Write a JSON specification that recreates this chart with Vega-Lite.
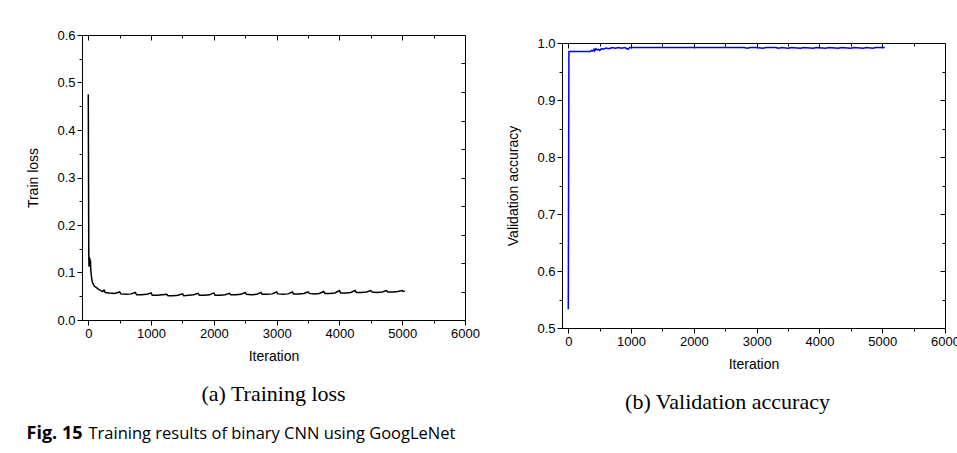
{
  "$schema": "https://vega.github.io/schema/vega-lite/v6.json",
  "padding": {"left": 26, "top": 28, "right": 0, "bottom": 0},
  "background": "white",
  "config": {
    "view": {"stroke": "#000", "strokeWidth": 1},
    "axis": {"grid": false, "domain": false, "labelFlush": false, "labelFont": "Liberation Sans", "labelFontSize": 13, "labelColor": "#000", "titleFont": "Liberation Sans", "titleFontSize": 14, "titleFontWeight": "normal", "titleColor": "#000", "tickColor": "#000", "tickSize": 5, "labelPadding": 2},
    "title": {"font": "Liberation Serif", "fontSize": 22, "fontWeight": "normal", "color": "#000"}
  },
  "datasets": {
    "loss": [
      {"iteration": 0, "loss": 0.475}, {"iteration": 8, "loss": 0.135}, {"iteration": 12, "loss": 0.112}, {"iteration": 16, "loss": 0.133}, {"iteration": 20, "loss": 0.113}, {"iteration": 25, "loss": 0.13}, {"iteration": 30, "loss": 0.115}, {"iteration": 35, "loss": 0.125}, {"iteration": 40, "loss": 0.105}, {"iteration": 50, "loss": 0.092}, {"iteration": 60, "loss": 0.083}, {"iteration": 70, "loss": 0.078}, {"iteration": 85, "loss": 0.074}, {"iteration": 100, "loss": 0.071}, {"iteration": 130, "loss": 0.068}, {"iteration": 160, "loss": 0.065}, {"iteration": 200, "loss": 0.062}, {"iteration": 230, "loss": 0.06},
      {"iteration": 250, "loss": 0.063}, {"iteration": 270, "loss": 0.058}, {"iteration": 330, "loss": 0.057}, {"iteration": 420, "loss": 0.056},
      {"iteration": 500, "loss": 0.059}, {"iteration": 520, "loss": 0.055}, {"iteration": 600, "loss": 0.054}, {"iteration": 680, "loss": 0.055},
      {"iteration": 750, "loss": 0.058}, {"iteration": 770, "loss": 0.053}, {"iteration": 850, "loss": 0.053}, {"iteration": 930, "loss": 0.054},
      {"iteration": 1000, "loss": 0.057}, {"iteration": 1020, "loss": 0.052}, {"iteration": 1100, "loss": 0.052}, {"iteration": 1180, "loss": 0.053},
      {"iteration": 1250, "loss": 0.054}, {"iteration": 1270, "loss": 0.051}, {"iteration": 1350, "loss": 0.051}, {"iteration": 1430, "loss": 0.052},
      {"iteration": 1500, "loss": 0.055}, {"iteration": 1520, "loss": 0.051}, {"iteration": 1600, "loss": 0.052}, {"iteration": 1680, "loss": 0.053},
      {"iteration": 1750, "loss": 0.056}, {"iteration": 1770, "loss": 0.052}, {"iteration": 1850, "loss": 0.052}, {"iteration": 1930, "loss": 0.053},
      {"iteration": 2000, "loss": 0.057}, {"iteration": 2020, "loss": 0.052}, {"iteration": 2100, "loss": 0.052}, {"iteration": 2180, "loss": 0.053},
      {"iteration": 2250, "loss": 0.056}, {"iteration": 2270, "loss": 0.053}, {"iteration": 2350, "loss": 0.053}, {"iteration": 2430, "loss": 0.054},
      {"iteration": 2500, "loss": 0.058}, {"iteration": 2520, "loss": 0.054}, {"iteration": 2600, "loss": 0.053}, {"iteration": 2680, "loss": 0.054},
      {"iteration": 2750, "loss": 0.058}, {"iteration": 2770, "loss": 0.054}, {"iteration": 2850, "loss": 0.054}, {"iteration": 2930, "loss": 0.055},
      {"iteration": 3000, "loss": 0.059}, {"iteration": 3020, "loss": 0.055}, {"iteration": 3100, "loss": 0.054}, {"iteration": 3180, "loss": 0.055},
      {"iteration": 3250, "loss": 0.059}, {"iteration": 3270, "loss": 0.055}, {"iteration": 3350, "loss": 0.055}, {"iteration": 3430, "loss": 0.056},
      {"iteration": 3500, "loss": 0.059}, {"iteration": 3520, "loss": 0.056}, {"iteration": 3600, "loss": 0.055}, {"iteration": 3680, "loss": 0.056},
      {"iteration": 3750, "loss": 0.06}, {"iteration": 3770, "loss": 0.056}, {"iteration": 3850, "loss": 0.056}, {"iteration": 3930, "loss": 0.057},
      {"iteration": 4000, "loss": 0.062}, {"iteration": 4020, "loss": 0.057}, {"iteration": 4100, "loss": 0.057}, {"iteration": 4180, "loss": 0.058},
      {"iteration": 4250, "loss": 0.062}, {"iteration": 4270, "loss": 0.058}, {"iteration": 4350, "loss": 0.058}, {"iteration": 4430, "loss": 0.059},
      {"iteration": 4500, "loss": 0.062}, {"iteration": 4520, "loss": 0.059}, {"iteration": 4600, "loss": 0.058}, {"iteration": 4680, "loss": 0.059},
      {"iteration": 4750, "loss": 0.062}, {"iteration": 4770, "loss": 0.059}, {"iteration": 4850, "loss": 0.059}, {"iteration": 4930, "loss": 0.06},
      {"iteration": 5000, "loss": 0.062}, {"iteration": 5020, "loss": 0.06}, {"iteration": 5040, "loss": 0.061}
    ],
    "acc": [
      {"iteration": 0, "accuracy": 0.533}, {"iteration": 10, "accuracy": 0.985}, {"iteration": 300, "accuracy": 0.985}, {"iteration": 350, "accuracy": 0.985}, {"iteration": 370, "accuracy": 0.987}, {"iteration": 390, "accuracy": 0.986}, {"iteration": 410, "accuracy": 0.989}, {"iteration": 420, "accuracy": 0.986}, {"iteration": 440, "accuracy": 0.99}, {"iteration": 460, "accuracy": 0.988}, {"iteration": 480, "accuracy": 0.989}, {"iteration": 500, "accuracy": 0.987}, {"iteration": 530, "accuracy": 0.99}, {"iteration": 560, "accuracy": 0.989}, {"iteration": 600, "accuracy": 0.991}, {"iteration": 650, "accuracy": 0.99}, {"iteration": 700, "accuracy": 0.992}, {"iteration": 750, "accuracy": 0.991}, {"iteration": 800, "accuracy": 0.992}, {"iteration": 850, "accuracy": 0.991}, {"iteration": 900, "accuracy": 0.992}, {"iteration": 950, "accuracy": 0.989}, {"iteration": 980, "accuracy": 0.992}, {"iteration": 1000, "accuracy": 0.992}, {"iteration": 2000, "accuracy": 0.992}, {"iteration": 2800, "accuracy": 0.992}, {"iteration": 2850, "accuracy": 0.991}, {"iteration": 2900, "accuracy": 0.992}, {"iteration": 3000, "accuracy": 0.992}, {"iteration": 3100, "accuracy": 0.991}, {"iteration": 3150, "accuracy": 0.992}, {"iteration": 3300, "accuracy": 0.992}, {"iteration": 3350, "accuracy": 0.991}, {"iteration": 3400, "accuracy": 0.992}, {"iteration": 3500, "accuracy": 0.991}, {"iteration": 3550, "accuracy": 0.992}, {"iteration": 3700, "accuracy": 0.991}, {"iteration": 3750, "accuracy": 0.992}, {"iteration": 3900, "accuracy": 0.991}, {"iteration": 3950, "accuracy": 0.992}, {"iteration": 4100, "accuracy": 0.991}, {"iteration": 4150, "accuracy": 0.992}, {"iteration": 4300, "accuracy": 0.991}, {"iteration": 4350, "accuracy": 0.992}, {"iteration": 4500, "accuracy": 0.991}, {"iteration": 4550, "accuracy": 0.992}, {"iteration": 4700, "accuracy": 0.991}, {"iteration": 4750, "accuracy": 0.992}, {"iteration": 4850, "accuracy": 0.991}, {"iteration": 4900, "accuracy": 0.992}, {"iteration": 5040, "accuracy": 0.992}
    ],
    "empty": [],
    "cap1": [{"t": "Fig. 15"}],
    "cap2": [{"t": "Training results of binary CNN using GoogLeNet"}]
  },
  "spacing": 10,
  "vconcat": [
    {
      "hconcat": [
        {
          "width": 383, "height": 285,
          "data": {"name": "loss"},
          "title": {"text": "(a) Training loss", "orient": "bottom", "offset": 21},
          "resolve": {"axis": {"x": "independent", "y": "independent"}},
          "layer": [
            {
              "mark": {"type": "line", "color": "#000", "strokeWidth": 1.5},
              "encoding": {
                "x": {"field": "iteration", "type": "quantitative", "scale": {"domain": [-100, 6000], "nice": false, "zero": false}, "axis": {"orient": "bottom", "values": [0, 1000, 2000, 3000, 4000, 5000, 6000], "format": "d", "title": "Iteration", "titlePadding": 9}},
                "y": {"field": "loss", "type": "quantitative", "scale": {"domain": [0, 0.6], "nice": false}, "axis": {"orient": "left", "values": [0, 0.1, 0.2, 0.3, 0.4, 0.5, 0.6], "format": ".1f", "title": "Train loss", "titlePadding": 16}}
              }
            },
            {
              "mark": {"type": "line", "strokeOpacity": 0},
              "encoding": {
                "x": {"field": "iteration", "type": "quantitative", "scale": {"domain": [-100, 6000], "nice": false, "zero": false}, "axis": {"orient": "bottom", "values": [500, 1500, 2500, 3500, 4500, 5500], "labels": false, "tickSize": 3, "title": null}},
                "y": {"field": "loss", "type": "quantitative", "scale": {"domain": [0, 0.6], "nice": false}, "axis": {"orient": "left", "values": [0.05, 0.15, 0.25, 0.35, 0.45, 0.55], "labels": false, "tickSize": 3, "title": null}}
              }
            },
            {
              "mark": {"type": "line", "strokeOpacity": 0},
              "encoding": {
                "x": {"field": "iteration", "type": "quantitative", "scale": {"domain": [-100, 6000], "nice": false, "zero": false}, "axis": {"orient": "top", "values": [0, 1000, 2000, 3000, 4000, 5000, 6000], "labels": false, "tickSize": -5, "title": null}},
                "y": {"field": "loss", "type": "quantitative", "scale": {"domain": [0, 0.6], "nice": false}, "axis": {"orient": "right", "values": [0.06, 0.12, 0.18, 0.24, 0.3, 0.36, 0.42, 0.48, 0.54], "labels": false, "tickSize": -4, "title": null}}
              }
            },
            {
              "mark": {"type": "line", "strokeOpacity": 0},
              "encoding": {
                "x": {"field": "iteration", "type": "quantitative", "scale": {"domain": [-100, 6000], "nice": false, "zero": false}, "axis": {"orient": "top", "values": [500, 1500, 2500, 3500, 4500, 5500], "labels": false, "tickSize": -3, "title": null}},
                "y": {"field": "loss", "type": "quantitative", "scale": {"domain": [0, 0.6], "nice": false}, "axis": null}
              }
            }
          ]
        },
        {
          "spacing": 0,
          "vconcat": [
            {
              "width": 383, "height": 1,
              "data": {"name": "empty"},
              "view": {"stroke": null},
              "mark": "text",
              "encoding": {}
            },
            {
              "width": 383, "height": 285,
              "data": {"name": "acc"},
              "title": {"text": "(b) Validation accuracy", "orient": "bottom", "offset": 21, "dx": -26},
              "resolve": {"axis": {"x": "independent", "y": "independent"}},
              "layer": [
                {
                  "mark": {"type": "line", "color": "#0000ff", "strokeWidth": 1.5},
                  "encoding": {
                    "x": {"field": "iteration", "type": "quantitative", "scale": {"domain": [-100, 6000], "nice": false, "zero": false}, "axis": {"orient": "bottom", "values": [0, 1000, 2000, 3000, 4000, 5000, 6000], "format": "d", "title": "Iteration", "titlePadding": 9}},
                    "y": {"field": "accuracy", "type": "quantitative", "scale": {"domain": [0.5, 1.0], "nice": false, "zero": false}, "axis": {"orient": "left", "values": [0.5, 0.6, 0.7, 0.8, 0.9, 1.0], "format": ".1f", "title": "Validation accuracy", "titlePadding": 16}}
                  }
                },
                {
                  "mark": {"type": "line", "strokeOpacity": 0},
                  "encoding": {
                    "x": {"field": "iteration", "type": "quantitative", "scale": {"domain": [-100, 6000], "nice": false, "zero": false}, "axis": {"orient": "bottom", "values": [500, 1500, 2500, 3500, 4500, 5500], "labels": false, "tickSize": 3, "title": null}},
                    "y": {"field": "accuracy", "type": "quantitative", "scale": {"domain": [0.5, 1.0], "nice": false, "zero": false}, "axis": {"orient": "left", "values": [0.55, 0.65, 0.75, 0.85, 0.95], "labels": false, "tickSize": 3, "title": null}}
                  }
                },
                {
                  "mark": {"type": "line", "strokeOpacity": 0},
                  "encoding": {
                    "x": {"field": "iteration", "type": "quantitative", "scale": {"domain": [-100, 6000], "nice": false, "zero": false}, "axis": {"orient": "top", "values": [0, 1000, 2000, 3000, 4000, 5000, 6000], "labels": false, "tickSize": -5, "title": null}},
                    "y": {"field": "accuracy", "type": "quantitative", "scale": {"domain": [0.5, 1.0], "nice": false, "zero": false}, "axis": {"orient": "right", "values": [0.6, 0.7, 0.8, 0.9], "labels": false, "tickSize": -5, "title": null}}
                  }
                },
                {
                  "mark": {"type": "line", "strokeOpacity": 0},
                  "encoding": {
                    "x": {"field": "iteration", "type": "quantitative", "scale": {"domain": [-100, 6000], "nice": false, "zero": false}, "axis": {"orient": "top", "values": [500, 1500, 2500, 3500, 4500, 5500], "labels": false, "tickSize": -3, "title": null}},
                    "y": {"field": "accuracy", "type": "quantitative", "scale": {"domain": [0.5, 1.0], "nice": false, "zero": false}, "axis": {"orient": "right", "values": [0.55, 0.65, 0.75, 0.85, 0.95], "labels": false, "tickSize": -3, "title": null}}
                  }
                }
              ]
            }
          ]
        }
      ],
      "spacing": 26
    },
    {
      "hconcat": [
        {
          "width": 1, "height": 20,
          "data": {"name": "cap1"},
          "view": {"stroke": null},
          "mark": {"type": "text", "align": "right", "baseline": "middle", "font": "Open Sans", "fontSize": 18, "fontWeight": "bold", "color": "#000"},
          "encoding": {"text": {"field": "t", "type": "nominal"}}
        },
        {
          "width": 1, "height": 20,
          "data": {"name": "cap2"},
          "view": {"stroke": null},
          "mark": {"type": "text", "align": "left", "baseline": "middle", "font": "Open Sans", "fontSize": 16.5, "color": "#000"},
          "encoding": {"text": {"field": "t", "type": "nominal"}}
        }
      ],
      "spacing": 5
    }
  ]
}
